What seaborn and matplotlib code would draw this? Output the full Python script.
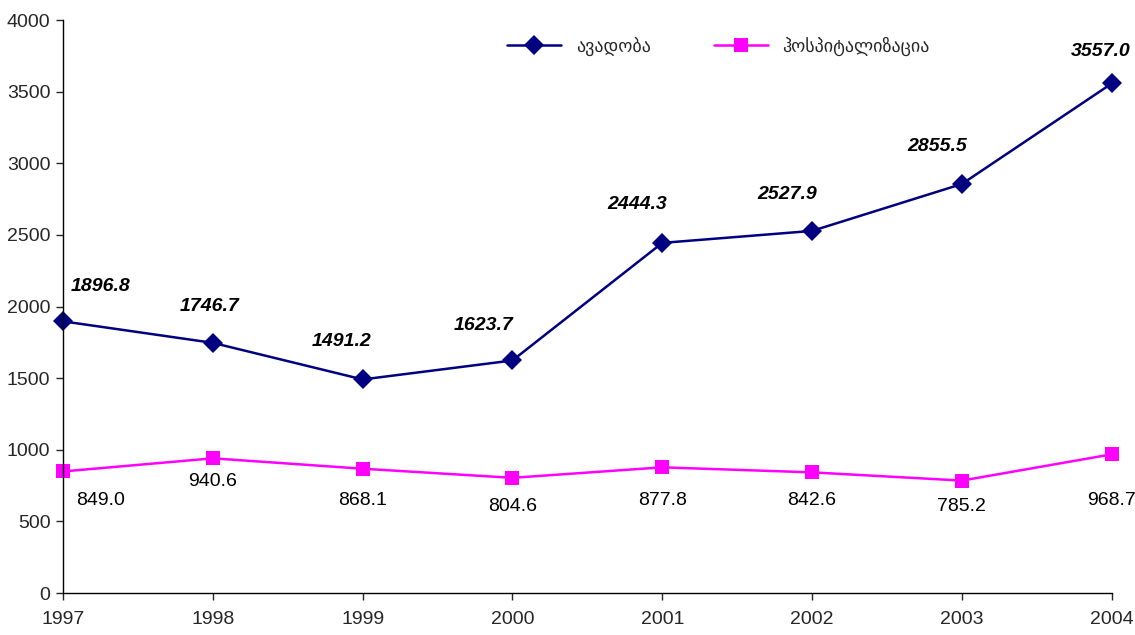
import numpy as np
import pandas as pd
import matplotlib.pyplot as plt
import seaborn as sns

years = [1997, 1998, 1999, 2000, 2001, 2002, 2003, 2004]
morbidity = [1896.8, 1746.7, 1491.2, 1623.7, 2444.3, 2527.9, 2855.5, 3557.0]
hospital = [849.0, 940.6, 868.1, 804.6, 877.8, 842.6, 785.2, 968.7]
names = ["ავადობა", "ჰოსპიტალიზაცია"]
colors = ["#000080", "#FF00FF"]

df = pd.DataFrame({
    "year": years * 2,
    "value": morbidity + hospital,
    "series": [names[0]] * len(years) + [names[1]] * len(years),
})

sns.set_style("white")
plt.rcParams["font.family"] = ["Liberation Sans", "DejaVu Sans"]

fig = plt.figure(figsize=(11.35, 6.35), dpi=100)
ax = fig.add_axes([0.0555, 0.066, 0.924, 0.9025])

sns.lineplot(data=df, x="year", y="value", hue="series", style="series",
             palette=colors, markers=["D", "s"], dashes=False,
             linewidth=1.8, markersize=10, markeredgewidth=0, ax=ax)
for line in ax.lines:
    line.set_clip_on(False)

# label offsets in points (roughly as Excel placed them)
top_off = [(27, 25), (-2, 26), (-15, 27), (-21, 25), (-18, 28), (-18, 26), (-18, 27), (-8, 23)]
for x, v, off in zip(years, morbidity, top_off):
    ax.annotate(f"{v:.1f}", (x, v), xytext=off, textcoords="offset points",
                ha="center", va="center", fontsize=14, fontweight="bold",
                fontstyle="italic", color="black", annotation_clip=False)
bot_off = [(27, -21), (0, -17), (0, -23), (0, -21), (0, -24), (0, -20), (0, -19), (0, -33)]
for x, v, off in zip(years, hospital, bot_off):
    ax.annotate(f"{v:.1f}", (x, v), xytext=off, textcoords="offset points",
                ha="center", va="center", fontsize=14, color="black",
                annotation_clip=False)

ax.set_xlim(1997, 2004)
ax.set_ylim(0, 4000)
ax.set_xticks(years)
ax.set_yticks(np.arange(0, 4001, 500))
ax.set_xlabel("")
ax.set_ylabel("")
ax.tick_params(axis="both", labelsize=14, length=5, width=1, direction="out",
               bottom=True, left=True, pad=4)
ax.tick_params(axis="x", pad=8)
sns.despine(ax=ax)
for s in ["left", "bottom"]:
    ax.spines[s].set_color("black")
    ax.spines[s].set_linewidth(1)

leg = ax.legend(loc="upper center", bbox_to_anchor=(0.625, 1.0), ncol=2,
                frameon=False, handlelength=3, columnspacing=3.5,
                title=None, prop={"family": ["DejaVu Sans"], "size": 13})
ax.grid(False)

fig.savefig("out.png", dpi=100)
